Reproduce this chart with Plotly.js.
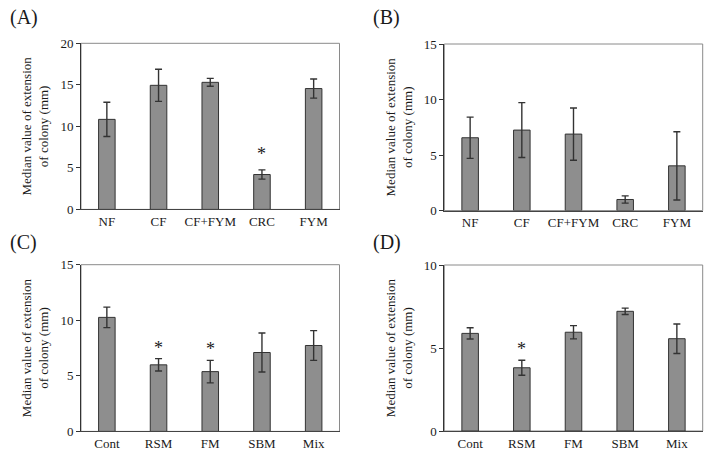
<!DOCTYPE html>
<html>
<head>
<meta charset="utf-8">
<script src="https://cdn.plot.ly/plotly-3.0.1.min.js"></script>
<style>
html,body{margin:0;padding:0;background:#fff;}
#chart{width:713px;height:461px;}
</style>
</head>
<body>
<div id="chart"></div>
<script>
// ---- Data ----
const catsAB = ['NF', 'CF', 'CF+FYM', 'CRC', 'FYM'];
const catsCD = ['Cont', 'RSM', 'FM', 'SBM', 'Mix'];

const valA = [10.84, 14.94, 15.3, 4.2, 14.55];
const errA = [2.07, 1.93, 0.48, 0.56, 1.15];
const sigA = [0, 0, 0, 1, 0];

const valB = [6.56, 7.25, 6.89, 1.0, 4.03];
const errB = [1.86, 2.47, 2.35, 0.33, 3.07];
const sigB = [0, 0, 0, 0, 0];

const valC = [10.26, 5.99, 5.38, 7.1, 7.73];
const errC = [0.92, 0.56, 1.01, 1.76, 1.34];
const sigC = [0, 1, 1, 0, 0];

const valD = [5.88, 3.81, 5.95, 7.21, 5.56];
const errD = [0.34, 0.45, 0.4, 0.19, 0.89];
const sigD = [0, 1, 0, 0, 0];

const panelLabels = ['(A)', '(B)', '(C)', '(D)'];
const yMax = [20, 15, 15, 10];
const yTitle = 'Median value of extension<br>of colony (mm)';

// ---- Styling / layout ----
const W = 713, H = 461;
const FONT = 'Liberation Serif, Times New Roman, serif';
const panels = [
  {cats: catsAB, val: valA, err: errA, sig: sigA, x: [81, 339.5], y: [43.3, 209.4], lab: [8, 18], star: 16},
  {cats: catsAB, val: valB, err: errB, sig: sigB, x: [444.3, 702.7], y: [44, 210.6], lab: [371, 18], star: 11},
  {cats: catsCD, val: valC, err: errC, sig: sigC, x: [81, 339.5], y: [264.7, 431.4], lab: [8, 243], star: 11},
  {cats: catsCD, val: valD, err: errD, sig: sigD, x: [444.3, 702.7], y: [265, 431], lab: [371, 243], star: 11}
];

const data = [];
const layout = {
  width: W, height: H,
  margin: {l: 0, r: 0, t: 0, b: 0},
  paper_bgcolor: '#ffffff',
  plot_bgcolor: '#ffffff',
  showlegend: false,
  bargap: 0.68,
  font: {family: FONT, size: 13, color: '#1a1a1a'},
  annotations: [],
  shapes: []
};

panels.forEach((p, i) => {
  const n = i === 0 ? '' : String(i + 1);
  const xa = 'x' + n, ya = 'y' + n;
  data.push({
    type: 'bar',
    x: p.cats,
    y: p.val,
    xaxis: xa, yaxis: ya,
    marker: {color: '#8e8e8e', line: {color: '#333333', width: 1}},
    error_y: {type: 'data', array: p.err, visible: true, color: '#333333', thickness: 1.4, width: 3.5},
    hoverinfo: 'x+y'
  });
  const xd = [p.x[0] / W, p.x[1] / W];
  const yd = [1 - p.y[1] / H, 1 - p.y[0] / H];
  layout['xaxis' + n] = {
    domain: xd, anchor: ya,
    showline: true, linecolor: '#444444', linewidth: 1,
    ticks: '', showgrid: false, zeroline: false,
    tickfont: {family: FONT, size: 13, color: '#1a1a1a'},
    fixedrange: true
  };
  layout['yaxis' + n] = {
    domain: yd, anchor: xa,
    range: [0, yMax[i]], dtick: 5,
    showline: true, linecolor: '#333333', linewidth: 1,
    ticks: 'outside', ticklen: 4, tickcolor: '#333333',
    showgrid: false, zeroline: false,
    tickfont: {family: FONT, size: 13, color: '#1a1a1a'},
    title: {text: yTitle, font: {family: FONT, size: 13, color: '#1a1a1a'}, standoff: 8},
    fixedrange: true
  };
  // plot-area frame
  layout.shapes.push({
    type: 'rect', xref: xa + ' domain', yref: ya + ' domain',
    x0: 0, x1: 1, y0: 0, y1: 1,
    line: {color: '#8a8a8a', width: 1}, layer: 'below'
  });
  // panel label
  layout.annotations.push({
    text: panelLabels[i], xref: 'paper', yref: 'paper',
    x: p.lab[0] / W, y: 1 - p.lab[1] / H,
    xanchor: 'left', yanchor: 'middle', showarrow: false,
    font: {family: FONT, size: 20, color: '#1a1a1a'}
  });
  // significance asterisks
  p.sig.forEach((s, k) => {
    if (s) {
      layout.annotations.push({
        text: '*', xref: xa, yref: ya,
        x: p.cats[k], y: p.val[k] + p.err[k],
        yanchor: 'middle', showarrow: false, yshift: p.star,
        font: {family: FONT, size: 18, color: '#1a1a1a'}
      });
    }
  });
});

Plotly.newPlot('chart', data, layout, {displayModeBar: false, staticPlot: true});
</script>
</body>
</html>
